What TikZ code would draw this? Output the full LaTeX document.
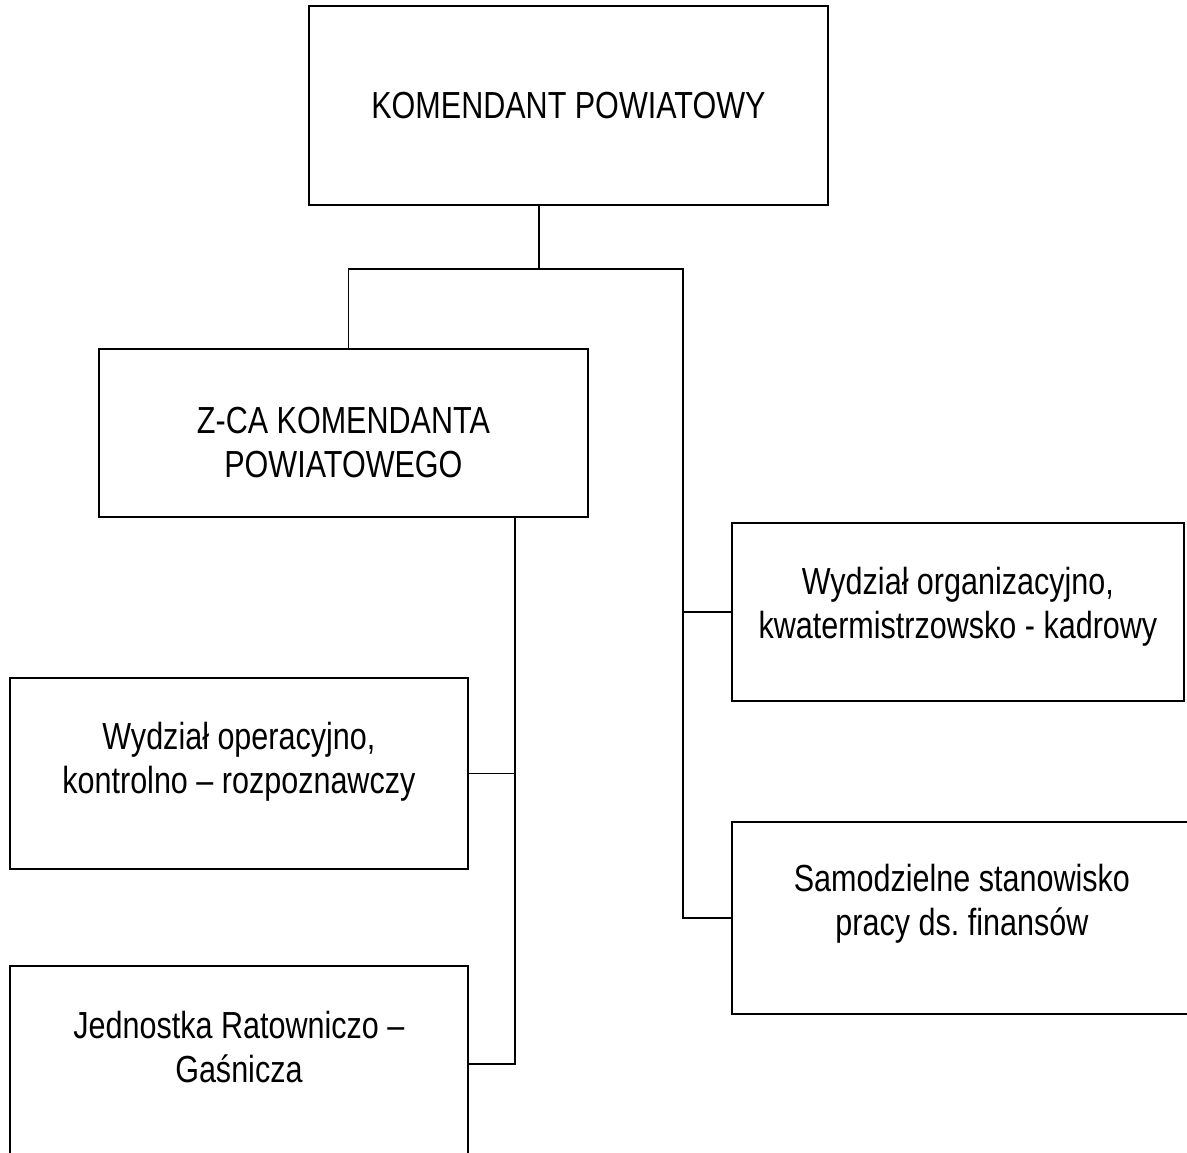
\documentclass[tikz,border=0pt]{standalone}
\usepackage{fontspec}
\setmainfont{Liberation Sans}[FakeStretch=0.81]
\usetikzlibrary{positioning}

\begin{document}
\begin{tikzpicture}[x=1pt, y=-1pt,
    unit/.style={draw, rectangle, line width=1.8pt, anchor=north west, inner sep=0pt},
    caption/.style={align=center, inner sep=0pt, font=\fontsize{37.7}{44}\selectfont},
    link/.style={line width=1.6pt}]

    \useasboundingbox (0,0) rectangle (1187,1153);
    \clip (0,0) rectangle (1187,1153);

    % Komendant
    \node[unit, minimum width=519pt, minimum height=199pt] (kp) at (308,5) {};
    \node[caption] (kptext) at (kp.center) {KOMENDANT POWIATOWY};

    % Zastepca
    \node[unit, minimum width=489pt, minimum height=168pt] (zca) at (98,348) {};
    \node[caption] (zcatext) at ([yshift=-10pt]zca.center) {Z-CA KOMENDANTA\\POWIATOWEGO};

    % Right side
    \node[unit, minimum width=452pt, minimum height=178pt] (org) at (731,522) {};
    \node[caption] (orgtext) at ([yshift=5pt]org.center) {Wydział organizacyjno,\\kwatermistrzowsko - kadrowy};
    \node[unit, minimum width=470pt, minimum height=192pt] (sam) at (731,821) {};
    \node[caption] (samtext) at ([xshift=-5pt, yshift=14pt]sam.center) {Samodzielne stanowisko\\pracy ds.\ finansów};

    % Left side
    \node[unit, minimum width=458pt, minimum height=191pt] (oper) at (9,677) {};
    \node[caption] (opertext) at ([yshift=12pt]oper.center) {Wydział operacyjno,\\kontrolno – rozpoznawczy};
    \node[unit, minimum width=458pt, minimum height=196pt] (jrg) at (9,965) {};
    \node[caption] (jrgtext) at ([yshift=17pt]jrg.center) {Jednostka Ratowniczo –\\Gaśnicza};

    % Lines
    \coordinate (kbus) at (539,269);
    \coordinate (rbus) at (683,269);
    \coordinate (lbus) at (515,0);
    \draw[link] (kp.south -| kbus) -- (kbus);
    \draw[link] ([xshift=5pt]zca.north) |- (rbus) |- (sam.west);
    \draw[link] (rbus |- org.west) -- (org.west);
    \draw[link] (zca.south -| lbus) |- (jrg.east);
    \draw[link] (lbus |- oper.east) -- (oper.east);

\end{tikzpicture}
\end{document}
